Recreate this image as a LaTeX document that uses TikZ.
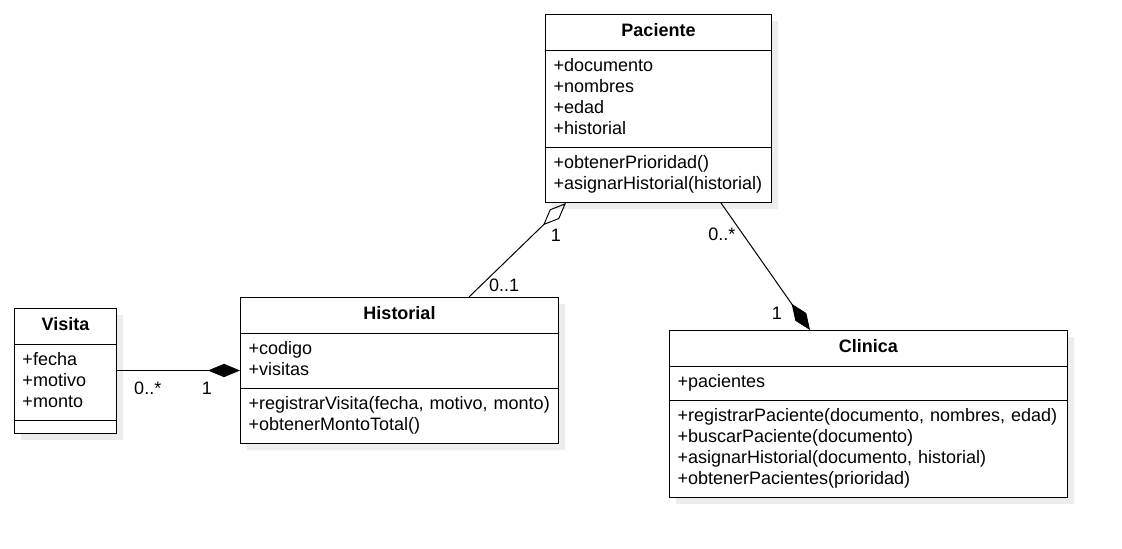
\documentclass[tikz,border=0pt]{standalone}
\usepackage{fontspec}
\setmainfont{Liberation Sans}
\usetikzlibrary{shapes.multipart,shadows,arrows.meta}

\newcommand\classname[1]{\hfill\rule[-5.6pt]{0pt}{17.25pt}\textbf{#1}\hfill\null}

\tikzset{
  umlclass/.style={rectangle split, rectangle split parts=3, draw, line width=0.75pt, fill=white,
    anchor=north west, inner xsep=6pt, inner ysep=4.5pt, align=left,
    drop shadow={shadow xshift=5pt, shadow yshift=-5pt, fill=black!7, opacity=1}},
  mult/.style={inner sep=1pt},
  aggr/.style={-{Diamond[open,length=24pt,width=10pt]}, line width=0.75pt},
  comp/.style={-{Diamond[length=24pt,width=10pt]}, line width=0.75pt},
}

\begin{document}
\begin{tikzpicture}[x=0.75pt,y=-0.75pt,font=\fontsize{13.5}{15.75}\selectfont]
  \useasboundingbox (0,0) rectangle (1122,549);
  \node[umlclass, text width=157.5pt] (pac) at (545,14)
    {\classname{Paciente}
     \nodepart{two}\strut+documento\\\strut+nombres\\\strut+edad\\\strut+historial
     \nodepart{three}\strut+obtenerPrioridad()\\\strut+asignarHistorial(historial)};
  \node[umlclass, text width=226.5pt] (hist) at (240,297)
    {\classname{Historial}
     \nodepart{two}\strut+codigo\\\strut+visitas
     \nodepart{three}\strut+registrarVisita(fecha, motivo, monto)\\\strut+obtenerMontoTotal()};
  \node[umlclass, text width=64.5pt] (vis) at (14,308)
    {\classname{Visita}
     \nodepart{two}\strut+fecha\\\strut+motivo\\\strut+monto
     \nodepart{three}};
  \node[umlclass, text width=286.5pt] (cli) at (669,330)
    {\classname{Clinica}
     \nodepart{two}\strut+pacientes
     \nodepart{three}\strut+registrarPaciente(documento, nombres, edad)\\\strut+buscarPaciente(documento)\\\strut+asignarHistorial(documento, historial)\\\strut+obtenerPacientes(prioridad)};
  \path
    ([xshift=171.75pt]hist.north west) edge[aggr]
      node[mult, pos=0.12, right=5pt] {0..1}
      node[mult, pos=0.66, right=12pt] {1} ([xshift=15.75pt]pac.south west)
    ([xshift=132pt]pac.south west) edge[comp]
      node[mult, pos=0.25, left=4.5pt] {0..*}
      node[mult, pos=0.87, left=11pt] {1} ([xshift=105.75pt]cli.north west)
    (vis.east |- hist.west) edge[comp]
      node[mult, pos=0.25, below=7pt] {0..*}
      node[mult, pos=0.73, below=7pt] {1} (hist.west);
\end{tikzpicture}
\end{document}
